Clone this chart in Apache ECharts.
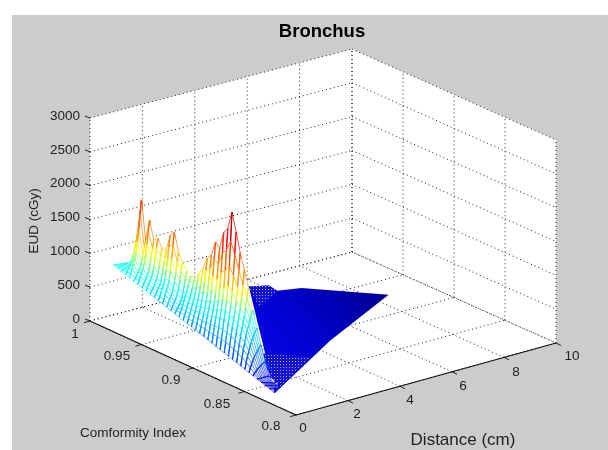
<!DOCTYPE html>
<html><head><meta charset="utf-8">
<style>html,body{margin:0;padding:0;background:#fff}#c{width:608px;height:450px;filter:blur(0.4px)}</style>
<script src="https://cdn.jsdelivr.net/npm/echarts@6/dist/echarts.min.js"></script>
</head><body><div id="c"></div>
<script>
const titleText = 'Bronchus';
const eudLabel = 'EUD (cGy)';
const ciLabel = 'Comformity Index';
const distanceLabel = 'Distance (cm)';
const eudTicks = [0,500,1000,1500,2000,2500,3000];
const ciTicks = [0.8,0.85,0.9,0.95,1];
const distanceTicks = [0,2,4,6,8,10];
// colormap position for each EUD level
const colorEUD = [0,100,400,830,1100,1300,1800,2260];
const colorPos = [0.06,0.14,0.26,0.4,0.6,0.72,0.85,1];

// mesh: one row per Conformity Index value, one column per distance value
const ciValues = [0.994,0.990,0.986,0.982,0.978,0.974,0.970,0.966,0.962,0.958,0.954,0.950,0.946,0.942,0.938,0.934,0.930,0.926,0.922,0.918,0.914,0.910,0.906,0.902,0.898,0.894,0.890,0.886,0.882,0.878,0.874,0.870,0.866,0.862,0.858,0.854,0.850,0.846,0.842,0.838];
const distanceValues = [0.65,0.70,0.75,0.80,0.85,0.90,0.95,1.00,1.05,1.10,1.20,1.60,2.20,3.00];
const eudRows = [
[805,800,798,795,793,790,788,785,783,781,720,560,300,40],
[785,788,790,795,798,802,808,812,818,824,740,560,300,40],
[764,773,782,790,799,811,830,855,885,911,780,540,280,40],
[743,775,807,839,871,914,984,1075,1182,1278,900,520,260,35],
[723,789,855,921,987,1075,1218,1405,1625,1823,1100,520,250,35],
[702,735,769,802,836,881,953,1048,1160,1260,880,500,240,35],
[682,736,790,844,898,970,1087,1241,1421,1583,1000,490,230,30],
[661,700,739,779,818,870,955,1066,1197,1315,900,470,220,30],
[641,685,729,773,816,875,970,1094,1240,1372,920,460,210,30],
[620,658,696,734,772,822,904,1012,1138,1252,860,440,200,30],
[600,639,678,717,756,808,893,1004,1134,1251,860,430,190,30],
[579,634,690,745,800,874,993,1150,1334,1500,980,430,180,30],
[559,620,681,742,802,883,1015,1188,1390,1573,1000,420,170,25],
[538,584,630,676,722,783,883,1013,1166,1304,850,380,150,25],
[518,558,598,638,678,731,818,932,1065,1185,780,340,130,25],
[497,532,567,602,637,684,759,858,975,1080,700,280,110,20],
[477,540,590,650,710,770,830,900,970,1034,640,240,90,20],
[456,520,575,630,690,750,815,880,960,1032,620,220,80,20],
[436,505,570,630,700,770,850,940,1040,1133,680,230,80,20],
[415,490,560,630,700,780,870,980,1110,1235,720,240,80,15],
[395,480,560,640,720,810,930,1070,1240,1411,800,260,80,15],
[374,465,550,635,720,815,940,1100,1290,1483,840,270,80,15],
[354,460,560,655,750,860,1010,1210,1450,1703,950,280,80,15],
[333,445,550,650,745,855,1000,1190,1410,1641,900,270,70,15],
[313,440,560,680,790,920,1090,1320,1600,1905,1020,290,70,10],
[292,430,560,690,810,950,1130,1380,1680,1993,1060,290,60,10],
[272,420,560,700,830,980,1180,1470,1830,2257,1200,280,50,10],
[251,400,540,670,790,930,1110,1360,1660,1990,1050,220,40,10],
[231,380,520,640,750,870,1010,1210,1450,1706,900,170,30,5],
[210,350,480,600,710,820,940,1090,1270,1483,780,130,20,5],
[190,325,450,560,660,760,860,980,1110,1245,660,100,15,5],
[169,290,400,500,590,670,740,810,880,948,500,80,10,5],
[149,245,330,400,470,530,580,630,670,709,370,60,10,5],
[128,190,245,295,335,370,400,430,460,487,260,40,5,null],
[108,135,160,180,200,215,230,245,255,266,140,25,5,null],
[87,85,85,85,85,85,85,85,85,84,50,15,null,null],
[67,60,50,45,40,35,30,20,10,5,5,5,null,null],
[46,40,35,30,25,20,15,10,5,5,5,null,null,null],
[26,22,18,15,12,10,8,5,5,null,null,null,null,null],
[5,5,null,null,null,null,null,null,null,null,null,null,null,null]
];

// flat, near-zero part of the surface
const flatDistance = [5.67,6.20,6.13,6.86,8.59,4.75,0.65];
const flatCI = [0.990,0.984,0.974,0.969,0.928,0.887,0.837];
const flatEUD = [0,0,0,0,0,0,0];
const rearPatchDistance = [5.67,6.20,6.13,4.81];
const rearPatchCI = [0.990,0.984,0.974,0.958];
const frontPatchDistance = [2.44,3.38,0.65];
const frontPatchCI = [0.895,0.872,0.837];

// viewing projection of the 3D box onto the plane
function project(d, ci, z) {
  const a = d / 10, b = (ci - 0.8) / 0.2;
  return [296 + 260 * a - 206 * b + 2 * a * b,
          415 - 72 * a - 94 * b + 3 * a * b - z * 203 / 3000];
}
function jet(z) {
  let t = 1;
  for (let i = 1; i < colorEUD.length; i++) {
    if (z <= colorEUD[i]) {
      t = colorPos[i - 1] + (colorPos[i] - colorPos[i - 1]) * (z - colorEUD[i - 1]) / (colorEUD[i] - colorEUD[i - 1]);
      break;
    }
  }
  const c = v => Math.round(255 * Math.max(0, Math.min(1, v)));
  return 'rgb(' + c(1.5 - Math.abs(4 * t - 3)) + ',' + c(1.5 - Math.abs(4 * t - 2)) + ',' + c(1.5 - Math.abs(4 * t - 1)) + ')';
}
const FONT = '"Liberation Sans", Arial, sans-serif';
const TEXT = '#222222';

function ditherPattern() {
  const cv = document.createElement('canvas'); cv.width = cv.height = 3;
  const g = cv.getContext('2d');
  g.fillStyle = '#1414cc'; g.fillRect(0, 0, 3, 3);
  g.fillStyle = '#a8a8ee'; g.fillRect(1, 1, 1, 1);
  return { image: cv, repeat: 'repeat' };
}
const patternFill = ditherPattern();

function renderFrame(params, api) {
  const P = (d, c, z) => api.coord(project(d, c, z));
  const kids = [];
  const line = (a, b, dotted, color, w) => kids.push({ type: 'line',
    shape: { x1: a[0], y1: a[1], x2: b[0], y2: b[1] },
    style: { stroke: color || '#222', lineWidth: w || 1, lineDash: dotted ? [1, 3] : null } });
  const label = (text, x, y, align, size, rot) => kids.push({ type: 'text', x: x, y: y, rotation: rot || 0,
    style: { text: text, x: 0, y: 0, align: align, verticalAlign: 'middle', fill: TEXT,
             font: (size || 13.5) + 'px ' + FONT } });

  kids.push({ type: 'rect', shape: { x: 12, y: 15, width: 596, height: 435 }, style: { fill: '#cccccc' } });
  kids.push({ type: 'polygon', shape: { points: [P(0,1,0),P(0,1,3000),P(10,1,3000),P(10,0.8,3000),P(10,0.8,0),P(0,0.8,0)] }, style: { fill: '#ffffff' } });

  eudTicks.forEach(z => {
    line(P(0,1,z), P(10,1,z), true); line(P(10,1,z), P(10,0.8,z), true);
    const p = P(0,1,z);
    line(p, [p[0]-5, p[1]-2]);
    label(String(z), p[0]-10, p[1]-2, 'right');
  });
  distanceTicks.forEach(d => {
    line(P(d,0.8,0), P(d,1,0), true); line(P(d,1,0), P(d,1,3000), true);
    const p = P(d,0.8,0);
    if (d > 0) line(p, [p[0]+5, p[1]+2.5]);
  });
  ciTicks.forEach(c => {
    line(P(0,c,0), P(10,c,0), true); line(P(10,c,0), P(10,c,3000), true);
    const p = P(0,c,0);
    line(p, [p[0]-6, p[1]+1.7]);
  });
  line(P(0,1,0), P(0,0.8,0), false, '#111', 1.2);
  line(P(0,0.8,0), P(10,0.8,0), false, '#111', 1.2);

  const ciPos = [[271,426],[217,404],[171,380],[117,356],[75,334]];
  ciTicks.forEach((c, i) => label(String(c), ciPos[i][0], ciPos[i][1], 'center'));
  const dPos = [[303,428],[357,414],[410,400],[463,386],[516,372],[572,356]];
  distanceTicks.forEach((d, i) => label(String(d), dPos[i][0], dPos[i][1], 'center'));
  label(ciLabel, 133, 433, 'center', 13.5);
  label(distanceLabel, 463, 440, 'center', 17);
  label(eudLabel, 34, 221, 'center', 13.5, Math.PI / 2);
  return { type: 'group', children: kids };
}

function renderFlat(params, api) {
  const pts = (ds, cs) => ds.map((d, i) => api.coord(project(d, cs[i], flatEUD[0])));
  return { type: 'group', children: [
    { type: 'polygon', shape: { points: flatDistance.map((d, i) => api.coord(project(d, flatCI[i], flatEUD[i]))) },
      style: { fill: new echarts.graphic.LinearGradient(0, 1, 1, 0, [
        { offset: 0, color: '#0a0af4' }, { offset: 0.5, color: '#0000cc' }, { offset: 1, color: '#00008e' }]) } },
    { type: 'polygon', shape: { points: pts(rearPatchDistance, rearPatchCI) }, style: { fill: patternFill } },
    { type: 'polygon', shape: { points: pts(frontPatchDistance, frontPatchCI) }, style: { fill: patternFill } }
  ] };
}

function renderCell(params, api) {
  const i = api.value(0), k = api.value(1);
  const ci0 = ciValues[i], ci1 = ciValues[i + 1], d0 = distanceValues[k], d1 = distanceValues[k + 1];
  const z = [eudRows[i][k], eudRows[i][k + 1], eudRows[i + 1][k + 1], eudRows[i + 1][k]];
  const p = [api.coord(project(d0, ci0, z[0])), api.coord(project(d1, ci0, z[1])),
             api.coord(project(d1, ci1, z[2])), api.coord(project(d0, ci1, z[3]))];
  const kids = [];
  // the low part of the surface lies on the solid blue region, so only the high part hides what is behind it
  const lowTail = k >= 10 && (z[0] + z[1] + z[2] + z[3]) / 4 < 150;
  if (!lowTail) kids.push({ type: 'polygon', shape: { points: p }, style: { fill: '#ffffff' } });
  if (!lowTail) for (let e = 0; e < 4; e++) {
    const n = (e + 1) % 4;
    kids.push({ type: 'line', shape: { x1: p[e][0], y1: p[e][1], x2: p[n][0], y2: p[n][1] },
      style: { stroke: jet((z[e] + z[n]) / 2), lineWidth: e % 2 === 0 ? 1.3 : 0.5 } });
  }
  return { type: 'group', children: kids };
}

// far cells first so nearer cells hide them; cells outside the measured area are skipped
const cells = [];
for (let i = 0; i < ciValues.length - 1; i++)
  for (let k = distanceValues.length - 2; k >= 0; k--)
    if (eudRows[i + 1][k + 1] !== null && eudRows[i][k + 1] !== null) cells.push([i, k]);

const chart = echarts.init(document.getElementById('c'));
chart.setOption({
  animation: false,
  backgroundColor: '#ffffff',
  title: { text: titleText, left: 317, top: 17, textAlign: 'center',
           textStyle: { fontFamily: FONT, fontSize: 18.5, fontWeight: 'bold', color: '#000' } },
  grid: { left: 0, right: 0, top: 0, bottom: 0 },
  xAxis: { type: 'value', min: 0, max: 608, show: false },
  yAxis: { type: 'value', min: 0, max: 450, inverse: true, show: false },
  series: [
    { type: 'custom', coordinateSystem: 'cartesian2d', clip: false, silent: true, renderItem: renderFrame, data: [[0, 0]], encode: { x: 0, y: 1 }, z: 1 },
    { type: 'custom', coordinateSystem: 'cartesian2d', clip: false, silent: true, renderItem: renderFlat, data: [[0, 0]], encode: { x: 0, y: 1 }, z: 2 },
    { type: 'custom', coordinateSystem: 'cartesian2d', clip: false, silent: true, renderItem: renderCell, data: cells, encode: { x: 0, y: 1 }, z: 3, progressive: 0 }
  ]
});
</script></body></html>
